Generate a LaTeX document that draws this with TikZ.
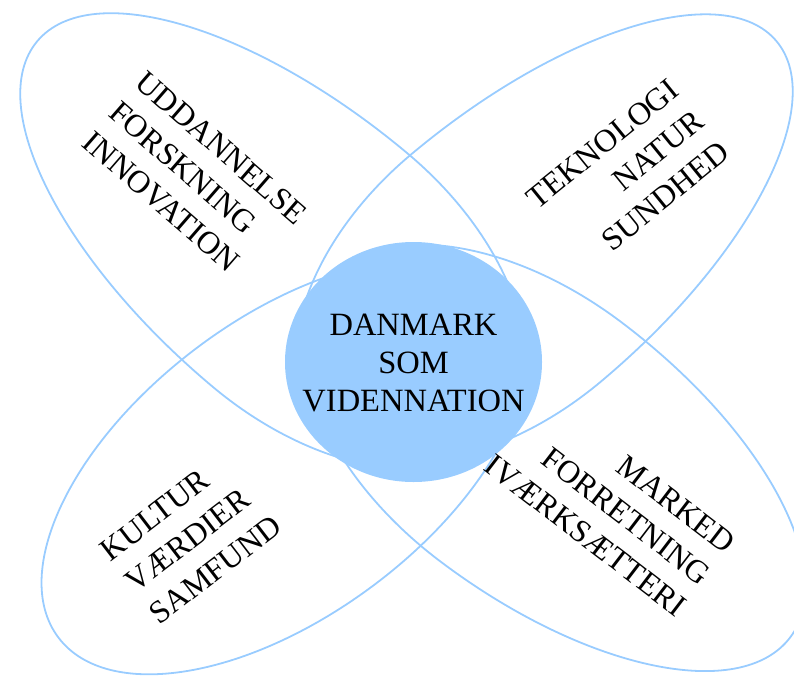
\documentclass[tikz,border=0pt]{standalone}
\usepackage{fontspec}
\setmainfont{Liberation Serif}
\definecolor{lysblaa}{RGB}{153,204,255}
\begin{document}
\begin{tikzpicture}[scale=0.35146]
	\tikzstyle{every node}+=[inner sep=0pt]
	\tikzstyle{petal}=[lysblaa, line width=1.8pt]
	\tikzstyle{tekst}=[font=\fontsize{32}{40}\selectfont]
	\useasboundingbox (0,0) rectangle (79.4,-67.5);
	% the four petals, broad end out, narrow end under the centre
	\draw [petal, rotate around={-40:(31.0,-27.0)}] (31.0,-11.8)
		arc [start angle=90, end angle=270, x radius=35.6, y radius=15.2]
		arc [start angle=-90, end angle=90, x radius=25.1, y radius=15.2] -- cycle;
	\draw [petal, rotate around={220:(50.6,-26.8)}] (50.6,-12.0)
		arc [start angle=90, end angle=270, x radius=35.3, y radius=14.8]
		arc [start angle=-90, end angle=90, x radius=24.5, y radius=14.8] -- cycle;
	\draw [petal, rotate around={37:(28.6,-46.6)}] (28.6,-31.8)
		arc [start angle=90, end angle=270, x radius=28.5, y radius=14.8]
		arc [start angle=-90, end angle=90, x radius=28.2, y radius=14.8] -- cycle;
	\draw [petal, rotate around={143:(53.07,-44.17)}] (53.07,-29.17)
		arc [start angle=90, end angle=270, x radius=32.5, y radius=15.0]
		arc [start angle=-90, end angle=90, x radius=26.0, y radius=15.0] -- cycle;
	% centre
	\fill [lysblaa] (41.35,-36.2) ellipse [x radius=12.85, y radius=12];
	\draw (41.35,-36.3) node (midt) [align=center, font=\fontsize{32.5}{38}\selectfont] {DANMARK\\SOM\\VIDENNATION};
	\draw (19.5,-17.8) node (uddannelse) [tekst, align=left, rotate=-41] {UDDANNELSE\\FORSKNING\\INNOVATION};
	\draw (62.8,-17.5) node (teknologi) [tekst, align=right, rotate=39] {TEKNOLOGI\\NATUR\\SUNDHED};
	\draw (19.1,-53.8) node (kultur) [tekst, align=left, rotate=37.5] {KULTUR\\VÆRDIER\\SAMFUND};
	\draw (61.0,-50.4) node (marked) [tekst, align=right, rotate=-37.5] {MARKED\\FORRETNING\\IVÆRKSÆTTERI};
\end{tikzpicture}
\end{document}
